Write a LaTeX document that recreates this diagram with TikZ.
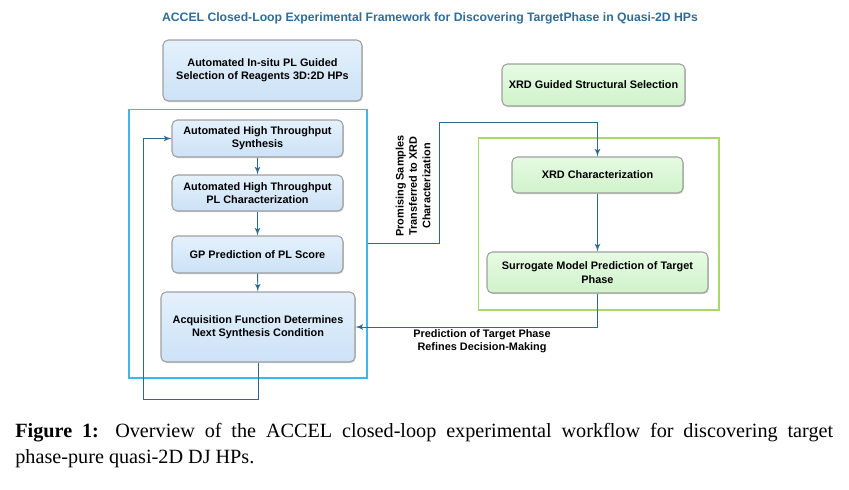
\documentclass[tikz,border=0pt]{standalone}
\usepackage{fontspec}
\setmainfont{Liberation Serif}
\setsansfont{Liberation Sans}
\usepackage{tikz}
\usetikzlibrary{arrows,shadows}
\definecolor{titleblue}{HTML}{2E6C9A}
\definecolor{linkblue}{HTML}{2D6A8A}
\definecolor{loopblue}{HTML}{3DB8EC}
\definecolor{loopgreen}{HTML}{A8D86A}
\definecolor{bluetop}{HTML}{E4F1FC}
\definecolor{bluebot}{HTML}{CCE2F6}
\definecolor{greentop}{HTML}{E6FBE3}
\definecolor{greenbot}{HTML}{D0F2CB}
\tikzset{
    block/.style={rectangle,rounded corners=3pt,draw=gray!75,line width=0.6pt,align=center,
        font=\sffamily\bfseries\fontsize{6.2}{7.6}\selectfont,
        drop shadow={shadow xshift=0.5pt,shadow yshift=-0.7pt,opacity=0.35}},
    blueblock/.style={block,top color=bluetop,bottom color=bluebot},
    greenblock/.style={block,top color=greentop,bottom color=greenbot},
    frame/.style={rectangle,line width=0.6pt,inner sep=0pt},
    flow/.style={->,> = latex',draw=linkblue,line width=0.5pt},
    flowlabel/.style={align=center,font=\sffamily\bfseries\fontsize{6.2}{7.6}\selectfont}
}
\begin{document}
\begin{tikzpicture}[x=0.02cm,y=-0.02cm]
\useasboundingbox (0,0) rectangle (849,490);
                        % title
                            \node[font=\sffamily\bfseries\fontsize{6.95}{8.4}\selectfont,text=titleblue] (title) at (430,18)
                                {ACCEL Closed-Loop Experimental Framework for Discovering TargetPhase in Quasi-2D HPs};
                        % frames
                            \node[frame,draw=loopblue,minimum width=4.76cm,minimum height=5.38cm] (ploop) at (248,243.5) {};
                            \node[frame,draw=loopgreen,minimum width=4.82cm,minimum height=3.44cm] (xloop) at (598.5,224) {};
                        % boxes
                            \node[blueblock,minimum width=3.98cm,minimum height=1.22cm] (sel) at (262.5,70.5)
                                {Automated In-situ PL Guided\\Selection of Reagents 3D:2D HPs};
                            \node[greenblock,minimum width=3.66cm,minimum height=0.84cm] (xsel) at (593.5,85)
                                {XRD Guided Structural Selection};
                            \node[blueblock,minimum width=3.42cm,minimum height=0.74cm] (syn) at (257.5,138.5)
                                {Automated High Throughput\\Synthesis};
                            \node[blueblock,minimum width=3.42cm,minimum height=0.72cm] (plc) at (257.5,193)
                                {Automated High Throughput\\PL Characterization};
                            \node[blueblock,minimum width=3.42cm,minimum height=0.74cm] (gp) at (257.5,254.5)
                                {GP Prediction of PL Score};
                            \node[blueblock,minimum width=3.88cm,minimum height=1.4cm] (acq) at (258,327)
                                {Acquisition Function Determines\\Next Synthesis Condition};
                            \node[greenblock,minimum width=3.42cm,minimum height=0.72cm] (xrdc) at (597.5,175)
                                {XRD Characterization};
                            \node[greenblock,minimum width=4.42cm,minimum height=0.82cm] (sur) at (597.5,272.5)
                                {Surrogate Model Prediction of Target\\Phase};
                        % edges
                            \coordinate (hop) at (439,122);
                            \coordinate (drop) at (143,399);
                            \draw[flow] (syn) -- (plc);
                            \draw[flow] (plc) -- (gp);
                            \draw[flow] (gp) -- (acq);
                            \draw[flow] (xrdc) -- (sur);
                            \draw[flow] (ploop.east) -| (hop) -| (xrdc.north);
                            \draw[flow] (sur.south) |- (acq.east);
                            \draw[flow] (acq.south) |- (drop) |- (syn.west);
                            \node[flowlabel,rotate=90] (promo) at (413,186)
                                {Promising Samples\\Transferred to XRD\\Characterization};
                            \node[flowlabel] (refine) at (482,341.5)
                                {Prediction of Target Phase\\Refines Decision-Making};
                        % caption
                            \node[anchor=north west,inner sep=0pt,text width=16.36cm,align=justify,
                                font=\fontsize{11.5}{14.8}\selectfont] (caption) at (15,423)
                                {\textbf{Figure 1:} Overview of the ACCEL closed-loop experimental workflow for discovering target \mbox{phase-pure} quasi-2D DJ HPs.};
                        \end{tikzpicture}
\end{document}
